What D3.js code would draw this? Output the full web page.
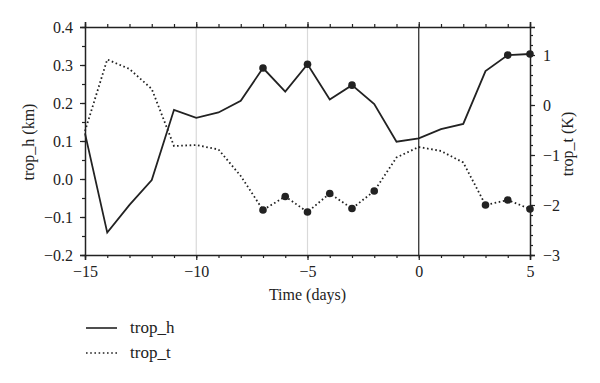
<!DOCTYPE html>
<html><head><meta charset="utf-8">
<script src="https://cdn.jsdelivr.net/npm/d3@7"></script>
<style>body{margin:0;background:#fff}svg{display:block}</style>
</head><body>
<svg id="c" width="600" height="383"></svg>
<script>
const days = [-15,-14,-13,-12,-11,-10,-9,-8,-7,-6,-5,-4,-3,-2,-1,0,1,2,3,4,5];
const tropH = [0.12,-0.141,-0.068,-0.003,0.182,0.161,0.175,0.206,0.292,0.23,0.302,0.209,0.247,0.197,0.098,0.107,0.131,0.145,0.284,0.326,0.329];
const tropT = [-0.52,0.91,0.72,0.32,-0.82,-0.8,-0.89,-1.42,-2.1,-1.83,-2.14,-1.77,-2.07,-1.72,-1.05,-0.84,-0.92,-1.15,-2.0,-1.9,-2.08];
const tropHMarked = [-7,-5,-3,4,5];
const tropTMarked = [-7,-6,-5,-4,-3,-2,3,4,5];
const xTicks = [-15,-10,-5,0,5];
const yLeftTicks = [-0.2,-0.1,0.0,0.1,0.2,0.3,0.4];
const yRightTicks = [-3,-2,-1,0,1];
const grayLines = [-10,-5];
const blackLines = [0];
const seriesNames = ["trop_h","trop_t"];

const FONT = '"Liberation Serif","Times New Roman",serif';
const svg = d3.select("#c");
const L=85,R=530,T=27,B=255;
const x = d3.scaleLinear().domain([-15,5]).range([L,R]);
const yl = d3.scaleLinear().domain([-0.2,0.4]).range([B,T]);
const yr = d3.scaleLinear().domain([-3,1.56]).range([B,T]);
const col="#222";

// reference lines
svg.selectAll(".gl").data(grayLines).enter().append("line")
  .attr("x1",d=>x(d)).attr("x2",d=>x(d)).attr("y1",T).attr("y2",B)
  .attr("stroke","#d9d9d9").attr("stroke-width",1.2);
svg.selectAll(".bl").data(blackLines).enter().append("line")
  .attr("x1",d=>x(d)).attr("x2",d=>x(d)).attr("y1",T).attr("y2",B)
  .attr("stroke",col).attr("stroke-width",1.2);

function styleAxis(g){
  g.select(".domain").attr("stroke",col).attr("stroke-width",1.5);
  g.selectAll(".tick line").attr("stroke",col).attr("stroke-width",1.2);
  g.selectAll("text").attr("fill",col).style("font-family",FONT).style("font-size","16px");
}
const fmtMinus = s => s.replace("-","\u2212");
// minor ticks
svg.append("g").attr("transform",`translate(0,${B})`).call(d3.axisBottom(x).tickValues(d3.range(-15,6,1)).tickSize(3).tickFormat("")).call(styleAxis).select(".domain").remove();
svg.append("g").attr("transform",`translate(0,${T})`).call(d3.axisTop(x).tickValues(d3.range(-15,6,1)).tickSize(3).tickFormat("")).call(styleAxis).select(".domain").remove();
svg.append("g").attr("transform",`translate(${L},0)`).call(d3.axisLeft(yl).tickValues(d3.range(-0.2,0.401,0.05)).tickSize(3).tickFormat("")).call(styleAxis).select(".domain").remove();
svg.append("g").attr("transform",`translate(${R},0)`).call(d3.axisRight(yr).tickValues(d3.range(-3,1.55,0.2)).tickSize(3).tickFormat("")).call(styleAxis).select(".domain").remove();
// major
svg.append("g").attr("transform",`translate(0,${B})`).call(d3.axisBottom(x).tickValues(xTicks).tickSize(5).tickPadding(6).tickFormat(d=>fmtMinus(String(d)))).call(styleAxis);
svg.append("g").attr("transform",`translate(0,${T})`).call(d3.axisTop(x).tickValues(xTicks).tickSize(5).tickFormat("")).call(styleAxis);
svg.append("g").attr("transform",`translate(${L},0)`).call(d3.axisLeft(yl).tickValues(yLeftTicks).tickSize(5).tickPadding(7).tickFormat(d=>fmtMinus(d3.format(".1f")(d)))).call(styleAxis);
svg.append("g").attr("transform",`translate(${R},0)`).call(d3.axisRight(yr).tickValues(yRightTicks).tickSize(5).tickPadding(8).tickFormat(d=>fmtMinus(String(d)))).call(styleAxis);

// lines
const lh = d3.line().x((d,i)=>x(days[i])).y(d=>yl(d));
const lt = d3.line().x((d,i)=>x(days[i])).y(d=>yr(d));
svg.append("path").attr("d",lh(tropH)).attr("fill","none").attr("stroke",col).attr("stroke-width",1.8);
svg.append("path").attr("d",lt(tropT)).attr("fill","none").attr("stroke",col).attr("stroke-width",1.8).attr("stroke-dasharray","1.6,2.6");
svg.selectAll(".dh").data(tropHMarked).enter().append("circle")
  .attr("cx",d=>x(d)).attr("cy",d=>yl(tropH[days.indexOf(d)])).attr("r",3.8).attr("fill",col);
svg.selectAll(".dt").data(tropTMarked).enter().append("circle")
  .attr("cx",d=>x(d)).attr("cy",d=>yr(tropT[days.indexOf(d)])).attr("r",3.8).attr("fill",col);

// labels
function txt(){return svg.append("text").style("font-family",FONT).style("font-size","16px").attr("fill",col);}
txt().attr("x",(L+R)/2).attr("y",300).attr("text-anchor","middle").text("Time (days)");
txt().attr("transform",`translate(34,142) rotate(-90)`).attr("text-anchor","middle").text("trop_h (km)");
txt().attr("transform",`translate(573,144) rotate(-90)`).attr("text-anchor","middle").text("trop_t (K)");

// legend
const dashes = [null,"1.6,2.6"];
seriesNames.forEach((n,i)=>{
  const yy=328+i*25;
  svg.append("line").attr("x1",86).attr("x2",117).attr("y1",yy).attr("y2",yy).attr("stroke",col).attr("stroke-width",1.6).attr("stroke-dasharray",dashes[i]);
  txt().attr("x",130).attr("y",yy+5).style("font-size","17px").text(n);
});
</script>
</body></html>
